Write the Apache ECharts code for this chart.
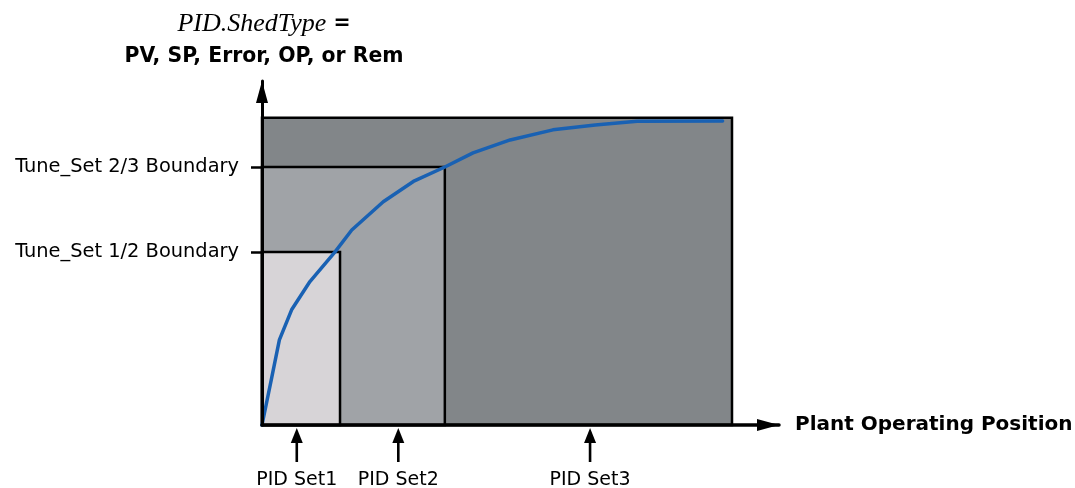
<!DOCTYPE html>
<html>
<head>
<meta charset="utf-8">
<title>PID Shed Tuning Sets</title>
<script src="https://cdn.jsdelivr.net/npm/echarts@6/dist/echarts.min.js"></script>
<style>
  html, body { margin: 0; padding: 0; background: #ffffff; }
  #chart { width: 1075px; height: 488px; }
</style>
</head>
<body>
<div id="chart"></div>
<script>
// Shed value (PV, SP, Error, OP or Rem) against plant operating position
const curveX = [0, 2.1, 3.7, 6.3, 10.2, 15.5, 19.1, 25.8, 32.2, 38.9, 44.9, 52.8, 61.9, 70.9, 79.8, 98.0];
const curveY = [0, 15.7, 27.7, 37.5, 46.7, 56.3, 63.5, 72.7, 79.3, 84.0, 88.6, 92.8, 96.1, 97.7, 98.9, 99.0];

// Tuning-set regions, outermost first: right edge (position) and top edge (shed value)
const regionRight = [100, 38.9, 16.6];
const regionTop = [100, 84.0, 56.3];

// Boundaries between tuning sets on the shed-value axis
const boundaryValues = [56.3, 84.0];
const boundaryLabels = ['Tune_Set 1/2 Boundary', 'Tune_Set 2/3 Boundary'];

// PID set markers along the operating-position axis
const pidX = [7.4, 29.0, 69.8];
const pidLabels = ['PID Set1', 'PID Set2', 'PID Set3'];

const regionColors = ['#828689', '#a0a3a7', '#d7d4d7'];

const chart = echarts.init(document.getElementById('chart'), null, { renderer: 'canvas' });

const sansFont = '"DejaVu Sans", "Liberation Sans", Arial, sans-serif';

chart.setOption({
  animation: false,
  backgroundColor: '#ffffff',
  grid: {
    left: 262, width: 517, top: 81, bottom: 63,
    containLabel: false,
    outerBoundsMode: 'none'
  },
  xAxis: {
    type: 'value',
    min: 0,
    max: 110,
    z: 10,
    name: 'Plant Operating Position',
    nameLocation: 'end',
    nameGap: 16,
    nameTextStyle: {
      fontFamily: sansFont,
      fontWeight: 'bold',
      fontSize: 20,
      color: '#000000',
      verticalAlign: 'middle'
    },
    axisLine: {
      show: true,
      onZero: false,
      symbol: ['none', 'triangle'],
      symbolSize: [12, 22],
      symbolOffset: [0, -11],
      lineStyle: { color: '#000000', width: 3.5 }
    },
    axisTick: { show: false },
    splitLine: { show: false },
    axisLabel: {
      customValues: pidX,
      margin: 46,
      fontFamily: sansFont,
      fontSize: 19,
      color: '#000000',
      formatter: function (v) {
        const i = pidX.indexOf(v);
        return i >= 0 ? pidLabels[i] : '';
      }
    }
  },
  yAxis: {
    type: 'value',
    min: 0,
    max: 112,
    z: 10,
    name: '{i|PID.ShedType}{b| =}\n{b|PV, SP, Error, OP, or Rem}',
    nameLocation: 'end',
    nameGap: 12,
    nameTextStyle: {
      align: 'center',
      verticalAlign: 'bottom',
      padding: [0, 0, 0, 4],
      rich: {
        i: {
          fontFamily: '"Liberation Serif", "Times New Roman", serif',
          fontStyle: 'italic',
          fontSize: 26,
          lineHeight: 42,
          color: '#000000'
        },
        b: {
          fontFamily: sansFont,
          fontWeight: 'bold',
          fontSize: 20.4,
          lineHeight: 24,
          color: '#000000'
        }
      }
    },
    axisLine: {
      show: true,
      onZero: false,
      symbol: ['none', 'triangle'],
      symbolSize: [12, 22],
      symbolOffset: [0, -11],
      lineStyle: { color: '#000000', width: 3 }
    },
    axisTick: {
      show: true,
      customValues: boundaryValues,
      length: 11,
      lineStyle: { color: '#000000', width: 2.5 }
    },
    splitLine: { show: false },
    axisLabel: {
      customValues: boundaryValues,
      margin: 23,
      fontFamily: sansFont,
      fontSize: 19.4,
      color: '#000000',
      formatter: function (v) {
        const i = boundaryValues.indexOf(v);
        return i >= 0 ? boundaryLabels[i] : '';
      }
    }
  },
  series: [
    {
      // Nested tuning-set regions
      type: 'custom',
      z: 1,
      clip: false,
      data: regionRight.map((r, i) => [r, regionTop[i], i]),
      renderItem: function (params, api) {
        const p0 = api.coord([0, 0]);
        const p1 = api.coord([api.value(0), api.value(1)]);
        const idx = api.value(2);
        return {
          type: 'rect',
          shape: { x: p0[0], y: p1[1], width: p1[0] - p0[0], height: p0[1] - p1[1] },
          style: { fill: regionColors[idx], stroke: '#000000', lineWidth: 2.5 }
        };
      }
    },
    {
      // Shed value curve
      type: 'line',
      z: 3,
      clip: false,
      symbol: 'none',
      smooth: false,
      data: curveX.map((x, i) => [x, curveY[i]]),
      lineStyle: { color: '#1961b3', width: 3.5, cap: 'round', join: 'round' }
    },
    {
      // Upward arrows marking each PID set below the position axis
      type: 'custom',
      z: 4,
      clip: false,
      data: pidX.map(x => [x, 0]),
      renderItem: function (params, api) {
        const p = api.coord([api.value(0), api.value(1)]);
        return {
          type: 'group',
          children: [
            {
              type: 'polygon',
              shape: { points: [[p[0], p[1] + 3], [p[0] - 6, p[1] + 18], [p[0] + 6, p[1] + 18]] },
              style: { fill: '#000000' }
            },
            {
              type: 'rect',
              shape: { x: p[0] - 1.3, y: p[1] + 16, width: 2.6, height: 21 },
              style: { fill: '#000000' }
            }
          ]
        };
      }
    }
  ]
});
</script>
</body>
</html>
